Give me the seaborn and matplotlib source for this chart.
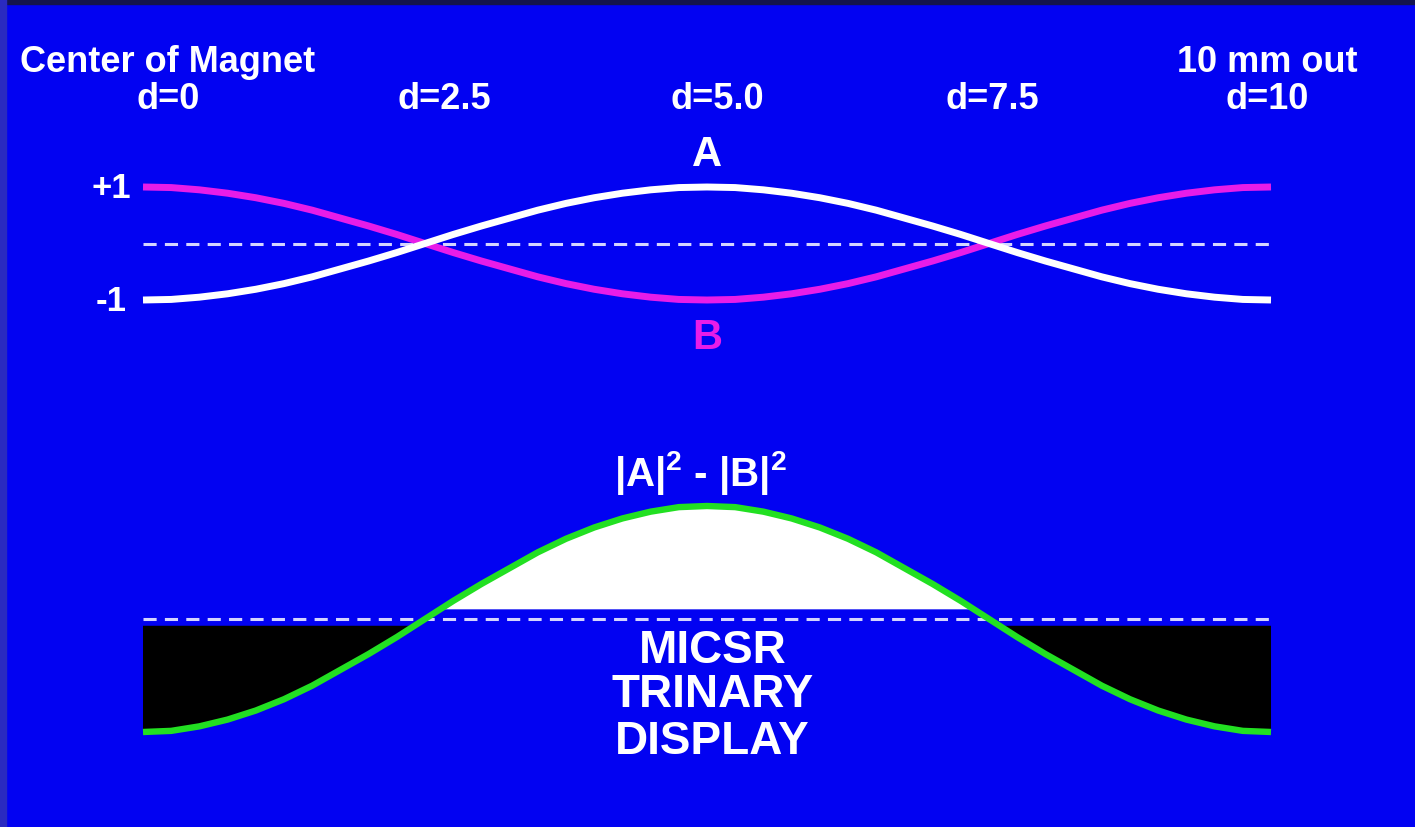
import numpy as np
import pandas as pd
import matplotlib
matplotlib.use("Agg")
import matplotlib.pyplot as plt
import seaborn as sns

# distance out from the centre of the magnet (mm)
d = [0.0, 0.25, 0.5, 0.75, 1.0, 1.25, 1.5, 1.75, 2.0, 2.25,
     2.5, 2.75, 3.0, 3.25, 3.5, 3.75, 4.0, 4.25, 4.5, 4.75,
     5.0, 5.25, 5.5, 5.75, 6.0, 6.25, 6.5, 6.75, 7.0, 7.25,
     7.5, 7.75, 8.0, 8.25, 8.5, 8.75, 9.0, 9.25, 9.5, 9.75, 10.0]

# signal A (white) and signal B (magenta)
signal_a = [-1.00, -0.99, -0.95, -0.89, -0.81, -0.71, -0.59, -0.45, -0.31, -0.16,
            0.00, 0.16, 0.31, 0.45, 0.59, 0.71, 0.81, 0.89, 0.95, 0.99,
            1.00, 0.99, 0.95, 0.89, 0.81, 0.71, 0.59, 0.45, 0.31, 0.16,
            0.00, -0.16, -0.31, -0.45, -0.59, -0.71, -0.81, -0.89, -0.95, -0.99, -1.00]
signal_b = [1.00, 0.99, 0.95, 0.89, 0.81, 0.71, 0.59, 0.45, 0.31, 0.16,
            0.00, -0.16, -0.31, -0.45, -0.59, -0.71, -0.81, -0.89, -0.95, -0.99,
            -1.00, -0.99, -0.95, -0.89, -0.81, -0.71, -0.59, -0.45, -0.31, -0.16,
            0.00, 0.16, 0.31, 0.45, 0.59, 0.71, 0.81, 0.89, 0.95, 0.99, 1.00]

# |A|^2 - |B|^2 (green), lower panel
difference = [-1.00, -0.99, -0.95, -0.89, -0.81, -0.71, -0.59, -0.45, -0.31, -0.16,
              0.00, 0.16, 0.31, 0.45, 0.59, 0.71, 0.81, 0.89, 0.95, 0.99,
              1.00, 0.99, 0.95, 0.89, 0.81, 0.71, 0.59, 0.45, 0.31, 0.16,
              0.00, -0.16, -0.31, -0.45, -0.59, -0.71, -0.81, -0.89, -0.95, -0.99, -1.00]

# labels along the top
top_labels = ["d=0", "d=2.5", "d=5.0", "d=7.5", "d=10"]
top_label_pos = [0.22, 2.67, 5.09, 7.53, 9.97]
level_labels = ["+1", "-1"]
level_values = [1, -1]
display_lines = ["MICSR", "TRINARY", "DISPLAY"]

df_top = pd.DataFrame({"d": d, "A": signal_a, "B": signal_b})
df_bot = pd.DataFrame({"d": d, "diff": difference})

sns.set_theme(style="white")
plt.rcParams["font.family"] = ["Liberation Sans", "DejaVu Sans"]
plt.rcParams["font.weight"] = "bold"
plt.rcParams["mathtext.fontset"] = "custom"
plt.rcParams["mathtext.bf"] = "Liberation Sans:bold"
plt.rcParams["mathtext.rm"] = "Liberation Sans:bold"

BLUE = "#0202f2"
MAGENTA = "#e81ce8"
GREEN = "#22e022"
DASH = "#d4d4ff"

W, H = 1415, 828
fig = plt.figure(figsize=(W / 100, H / 100), dpi=100, facecolor=BLUE)

# thin dark frame round the slide
fig.patches.append(plt.Rectangle((0, 1 - 5 / H), 1, 5 / H, transform=fig.transFigure,
                                 color="#14144e", zorder=0))
fig.patches.append(plt.Rectangle((0, 0), 6 / W, 1, transform=fig.transFigure,
                                 color="#2a2ac0", zorder=0))

x0, x1 = 143, 1271
ax_top = fig.add_axes([x0 / W, 1 - 301 / H, (x1 - x0) / W, 113 / H])
ax_bot = fig.add_axes([x0 / W, 1 - 733 / H, (x1 - x0) / W, 226 / H])
for ax in (ax_top, ax_bot):
    ax.set_xlim(0, 10)
    ax.set_ylim(-1, 1)
    ax.axis("off")
    ax.axhline(0, color=DASH, lw=2.2, dashes=(4.3, 2.7), zorder=1)

# upper panel
sns.lineplot(data=df_top, x="d", y="B", ax=ax_top, color=MAGENTA, lw=5,
             solid_capstyle="butt", clip_on=False, zorder=3)
sns.lineplot(data=df_top, x="d", y="A", ax=ax_top, color="white", lw=5,
             solid_capstyle="butt", clip_on=False, zorder=4)

ax_top.text(0.22, 3.23, "Center of Magnet", color="white", fontsize=26,
            ha="center", va="center")
ax_top.text(9.97, 3.23, "10 mm out", color="white", fontsize=26,
            ha="center", va="center")
for lab, xp in zip(top_labels, top_label_pos):
    ax_top.text(xp, 2.56, lab, color="white", fontsize=26, ha="center", va="center")
for lab, yv in zip(level_labels, level_values):
    ax_top.text(-0.28, yv, lab, color="white", fontsize=25, ha="center", va="center")
ax_top.text(5.0, 1.58, "A", color="white", fontsize=30, ha="center", va="center")
ax_top.text(5.0, -1.65, "B", color=MAGENTA, fontsize=30, ha="center", va="center")

# lower panel: trinary display
xb = np.array(d)
yb = np.array(difference)
ax_bot.fill_between(xb, yb, -0.06, where=yb < -0.06, interpolate=True,
                    color="black", lw=0, zorder=2)
ax_bot.fill_between(xb, yb, 0.09, where=yb > 0.09, interpolate=True,
                    color="white", lw=0, zorder=2)
sns.lineplot(data=df_bot, x="d", y="diff", ax=ax_bot, color=GREEN, lw=4.6,
             solid_capstyle="butt", clip_on=False, zorder=4)

ax_bot.text(4.94, 1.30, r"$\mathbf{|A|^{2}}$ - $\mathbf{|B|^{2}}$", color="white",
            fontsize=29, ha="center", va="center")
for txt, yv in zip(display_lines, [-0.27, -0.66, -1.08]):
    ax_bot.text(5.05, yv, txt, color="white", fontsize=33, ha="center",
                va="center", zorder=5)

for ax in (ax_top, ax_bot):
    leg = ax.get_legend()
    if leg is not None:
        leg.remove()

fig.savefig("out.png", dpi=100, facecolor=BLUE)
